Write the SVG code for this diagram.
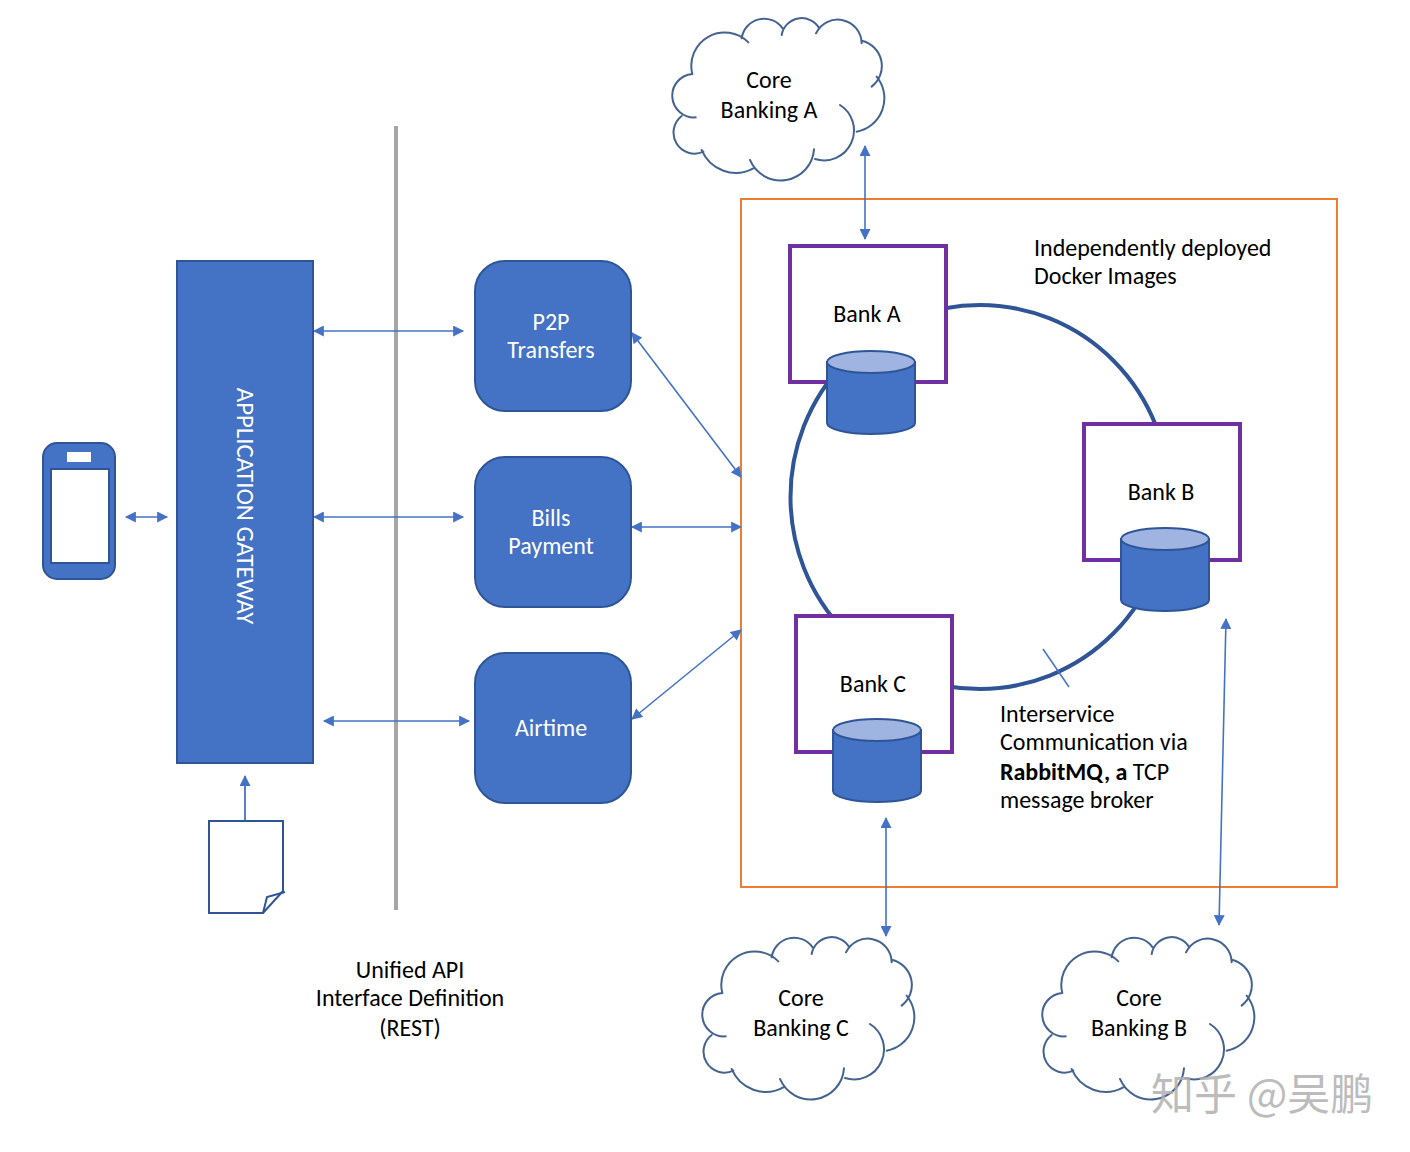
<svg xmlns="http://www.w3.org/2000/svg" xmlns:xlink="http://www.w3.org/1999/xlink" width="1410" height="1152" viewBox="0 0 1410 1152">
<style>
text{font-family:"Carlito","Lato","Liberation Sans",sans-serif;font-size:24px;fill:#000}
.m{text-anchor:middle}
.w{fill:#fff}
.node{fill:#4472c4;stroke:#2f5597;stroke-width:2}
.bank{fill:#fff;stroke:#7030a0;stroke-width:4}
.top{fill:#9fb4e0;stroke:#2f5597;stroke-width:2}
.cloud{fill:none;stroke:#44638f;stroke-width:6;stroke-linecap:round}
.a{stroke:#4472c4;stroke-width:1.6;fill:none;marker-start:url(#h);marker-end:url(#h)}
.b{stroke:#4472c4;stroke-width:1.8;fill:none;marker-end:url(#h)}
</style>
<defs>
<marker id="h" viewBox="0 0 10 10" refX="9" refY="5" markerUnits="userSpaceOnUse" markerWidth="12" markerHeight="11" orient="auto-start-reverse"><path d="M0,0L10,5L0,10z" fill="#4472c4"/></marker>
<path id="cl" d="M97,192A65,65 0 0 0 107,322M65,318A63,63 0 0 0 130,425M125,420A110,110 0 0 0 280,475M270,450A100,100 0 0 0 462,418M465,447A90,90 0 0 0 540,285M590,365A102,102 0 0 0 650,200M635,230A78,78 0 0 0 605,92M605,100A72,72 0 0 0 468,70M478,55A61,61 0 0 0 365,75M368,55A68,68 0 0 0 245,85M265,97A100,100 0 0 0 97,192"/>
<path id="cyl" d="M0,11V72C0,78 20,83 44,83C68,83 88,78 88,72V11z"/>
</defs>
<rect width="1410" height="1152" fill="#fff"/>
<rect id="container" x="741" y="199" width="596" height="688" fill="none" stroke="#ed7d31" stroke-width="2"/>
<line id="divider" x1="396" y1="126" x2="396" y2="910" stroke="#a6a6a6" stroke-width="4"/>
<g id="connectors">
<ellipse cx="980" cy="497" rx="189.5" ry="192" fill="none" stroke="#2f5597" stroke-width="4"/>
<line x1="1043" y1="649" x2="1069" y2="687" stroke="#4472c4" stroke-width="1.5"/>
<line class="a" x1="314" y1="331" x2="463" y2="331"/>
<line class="a" x1="314" y1="517" x2="463" y2="517"/>
<line class="a" x1="324" y1="721" x2="469" y2="721"/>
<line class="a" x1="126" y1="517" x2="167" y2="517"/>
<line class="a" x1="632" y1="333" x2="741" y2="477"/>
<line class="a" x1="632" y1="527" x2="741" y2="527"/>
<line class="a" x1="632" y1="719" x2="741" y2="630"/>
<line class="b" x1="245" y1="821" x2="245" y2="776"/>
<line class="a" x1="865" y1="239" x2="865" y2="146"/>
<line class="a" x1="886" y1="936" x2="886" y2="818"/>
<line class="a" x1="1219" y1="925" x2="1226" y2="619"/>
</g>
<g id="phone">
<rect x="43" y="443" width="72" height="136" rx="14" class="node"/>
<rect x="51" y="469" width="58" height="94" fill="#fff" stroke="#2f5597" stroke-width="2"/>
<rect x="67" y="452" width="24" height="10" fill="#fff"/>
</g>
<g id="gateway">
<rect x="177" y="261" width="136" height="502" class="node"/>
<text class="w m" transform="translate(237,506) rotate(90)" style="font-size:24.8px">APPLICATION GATEWAY</text>
</g>
<g id="document">
<path d="M209,821H283V891L263,913H209z" fill="#fff" stroke="#2f5597" stroke-width="2"/>
<path d="M285,892L267,897L263,913" fill="none" stroke="#2f5597" stroke-width="2"/>
</g>
<g id="p2p"><rect x="475" y="261" width="156" height="150" rx="30" class="node"/>
<text class="w m" x="551" y="330">P2P</text><text class="w m" x="551" y="358">Transfers</text></g>
<g id="bills"><rect x="475" y="457" width="156" height="150" rx="30" class="node"/>
<text class="w m" x="551" y="526">Bills</text><text class="w m" x="551" y="554">Payment</text></g>
<g id="airtime"><rect x="475" y="653" width="156" height="150" rx="30" class="node"/>
<text class="w m" x="551" y="736">Airtime</text></g>
<g id="bank-a"><rect x="790" y="246" width="156" height="136" class="bank"/>
<text class="m" x="867" y="322">Bank A</text>
<use href="#cyl" x="827" y="351" class="node"/><ellipse cx="871" cy="362" rx="44" ry="11" class="top"/></g>
<g id="bank-b"><rect x="1084" y="424" width="156" height="136" class="bank"/>
<text class="m" x="1161" y="500">Bank B</text>
<use href="#cyl" x="1121" y="528" class="node"/><ellipse cx="1165" cy="539" rx="44" ry="11" class="top"/></g>
<g id="bank-c"><rect x="796" y="616" width="156" height="136" class="bank"/>
<text class="m" x="873" y="692">Bank C</text>
<use href="#cyl" x="833" y="719" class="node"/><ellipse cx="877" cy="730" rx="44" ry="11" class="top"/></g>
<g id="core-a"><use href="#cl" class="cloud" transform="translate(660,10) scale(.3333)"/>
<text class="m" x="769" y="88">Core</text><text class="m" x="769" y="118">Banking A</text></g>
<g id="core-c"><use href="#cl" class="cloud" transform="translate(690,929) scale(.3333)"/>
<text class="m" x="801" y="1006">Core</text><text class="m" x="801" y="1036">Banking C</text></g>
<g id="core-b"><use href="#cl" class="cloud" transform="translate(1030,929) scale(.3333)"/>
<text class="m" x="1139" y="1006">Core</text><text class="m" x="1139" y="1036">Banking B</text></g>
<g id="labels">
<text x="1034" y="256">Independently deployed</text>
<text x="1034" y="284">Docker Images</text>
<text x="1000" y="722">Interservice</text>
<text x="1000" y="750">Communication via</text>
<text x="1000" y="780"><tspan font-weight="700">RabbitMQ, a</tspan> TCP</text>
<text x="1000" y="808">message broker</text>
<text class="m" x="410" y="978">Unified API</text>
<text class="m" x="410" y="1006">Interface Definition</text>
<text class="m" x="410" y="1036">(REST)</text>
</g>
<text x="1151" y="1110" style="font-family:'Noto Sans CJK SC',sans-serif;font-size:43px;fill:#b0b0b0;fill-opacity:.85">知乎 @吴鹏</text>
</svg>
